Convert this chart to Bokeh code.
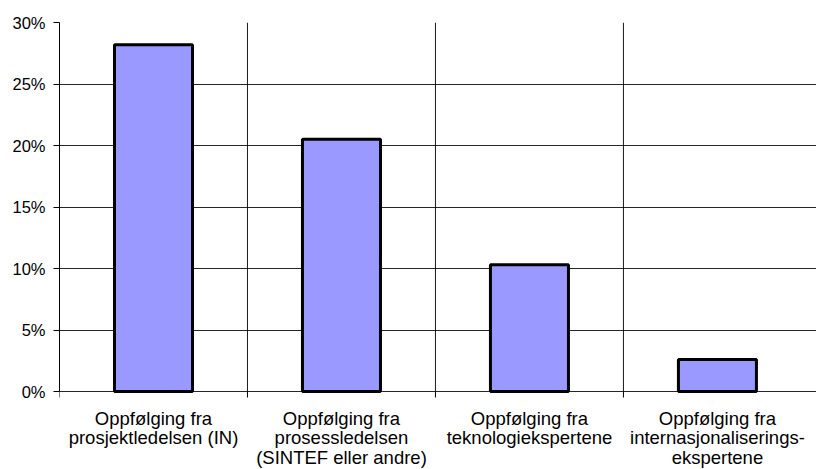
from bokeh.plotting import figure
from bokeh.models import FixedTicker, NumeralTickFormatter, ColumnDataSource
from bokeh.embed import file_html
from bokeh.resources import INLINE

categories = [
    "Oppfølging fra\nprosjektledelsen (IN)",
    "Oppfølging fra\nprosessledelsen\n(SINTEF eller andre)",
    "Oppfølging fra\nteknologiekspertene",
    "Oppfølging fra\ninternasjonaliserings-\nekspertene",
]
values = [0.282, 0.205, 0.103, 0.026]
y_ticks = [0, 0.05, 0.10, 0.15, 0.20, 0.25, 0.30]

n = len(categories)
y_max = y_ticks[-1]
xpos = [i + 0.5 for i in range(n)]
bounds = list(range(n))
src = ColumnDataSource(dict(x=xpos, top=values, base=[0.0] * n, label=categories))
bsrc = ColumnDataSource(dict(x=bounds, y0=[0.0] * n, y1=[y_max] * n))

# plot area: 369 px for the value axis; extra 78 px below for the category labels
PLOT_H, LABEL_H = 369, 78
y_min = -y_max * LABEL_H / PLOT_H

p = figure(width=816, height=469, x_range=(0, 4.027), y_range=(y_min, y_max),
           output_backend="svg", toolbar_location=None, x_axis_location=None,
           min_border_left=59, min_border_right=0, min_border_top=22, min_border_bottom=0)
p.outline_line_color = None
p.background_fill_color = "white"
p.border_fill_color = "white"

# horizontal grid (including the category-axis baseline at 0)
p.ygrid.ticker = FixedTicker(ticks=y_ticks)
p.ygrid.grid_line_color = "black"
p.ygrid.grid_line_alpha = 0.85
p.xgrid.grid_line_color = None

# vertical category separators + their tick marks below the baseline
p.segment(x0="x", y0="y0", x1="x", y1="y1", source=bsrc, line_color="black", line_width=1,
          line_alpha=0.9)
p.ray(x="x", y="y0", length=6, length_units="screen", angle=-90, angle_units="deg",
      source=bsrc, line_color="black", line_width=1)

p.vbar(x="x", top="top", width=0.415, bottom=0, source=src,
       fill_color="#9999FF", line_color="black", line_width=3)

FONT = "Liberation Sans"

p.text(x="x", y="base", text="label", source=src,
       text_font={"value": FONT}, text_font_size={"value": "18.5px"}, text_color="black",
       text_align="center", text_baseline="top", text_line_height=0.95, y_offset=16)

# y axis
p.yaxis.ticker = FixedTicker(ticks=y_ticks)
p.yaxis.bounds = (0, y_max)
p.yaxis.formatter = NumeralTickFormatter(format="0%")
p.yaxis.major_tick_in = 0
p.yaxis.major_tick_out = 6
p.yaxis.minor_tick_line_color = None
p.yaxis.axis_line_color = "black"
p.yaxis.major_tick_line_color = "black"
p.yaxis.major_label_text_font = FONT
p.yaxis.major_label_text_font_size = "16.5px"
p.yaxis.major_label_text_color = "black"
p.yaxis.major_label_standoff = 8

open("out.html", "w").write(file_html(p, INLINE))
